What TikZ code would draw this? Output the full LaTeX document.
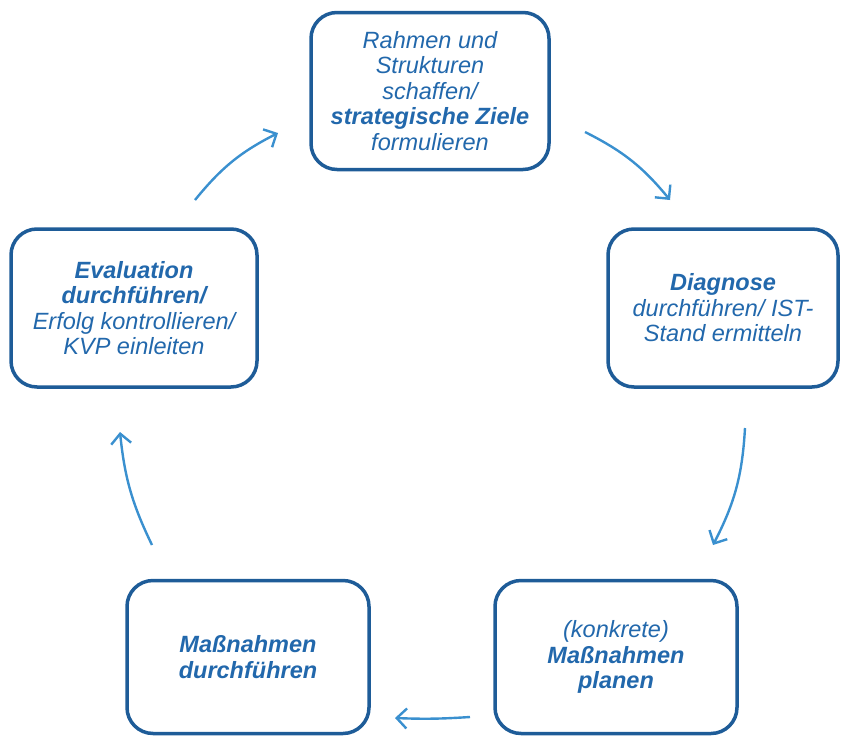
\documentclass[tikz,border=0pt]{standalone}
\usepackage{fontspec}
\setmainfont{Liberation Sans}
\usetikzlibrary{arrows.meta}
\definecolor{boxblue}{HTML}{1E5C98}
\definecolor{txtblue}{HTML}{2268AC}
\definecolor{arrblue}{HTML}{3A90CF}
\begin{document}
\begin{tikzpicture}[x=1pt,y=-1pt,
  stage/.style={draw=boxblue, line width=3.5pt, rounded corners=26pt, fill=white,
    text=txtblue, align=center, inner sep=0pt,
    font=\fontsize{23.5}{25.5}\selectfont\itshape},
  cyc/.style={draw=arrblue, line width=2.4pt,
    -{Straight Barb[length=10pt,width=20pt,line width=2.4pt]}}]
\useasboundingbox (0,0) rectangle (847,737);
\node[stage, minimum width=238pt, minimum height=157pt] (top) at (430,91)
  {Rahmen und\\Strukturen\\schaffen/\\\textbf{strategische Ziele}\\formulieren};
\node[stage, minimum width=230pt, minimum height=158pt] (right) at (723,308)
  {\textbf{Diagnose}\\durchführen/ IST-\\Stand ermitteln};
\node[stage, minimum width=246pt, minimum height=158pt] (left) at (134,308)
  {\textbf{Evaluation}\\\textbf{durchführen/}\\Erfolg kontrollieren/\\KVP einleiten};
\node[stage, minimum width=242pt, minimum height=153pt] (bl) at (248,657)
  {\textbf{Maßnahmen}\\\textbf{durchführen}};
\node[stage, minimum width=242pt, minimum height=153pt] (br) at (616,657)
  {(konkrete)\\\textbf{Maßnahmen}\\\textbf{planen}};
\coordinate (a1s) at (585,132); \coordinate (a1e) at (670,200);
\coordinate (a2s) at (745,428); \coordinate (a2e) at (713,545);
\coordinate (a3s) at (470,717); \coordinate (a3e) at (395,718);
\coordinate (a4s) at (152,545); \coordinate (a4e) at (120,432);
\coordinate (a5s) at (195,200); \coordinate (a5e) at (278,133);
\draw[cyc] (a1s) to[bend left=12] (a1e);
\draw[cyc] (a2s) to[bend left=12] (a2e);
\draw[cyc] (a3s) to[bend left=3] (a3e);
\draw[cyc] (a4s) to[bend left=10] (a4e);
\draw[cyc] (a5s) to[bend left=12] (a5e);
\end{tikzpicture}
\end{document}
